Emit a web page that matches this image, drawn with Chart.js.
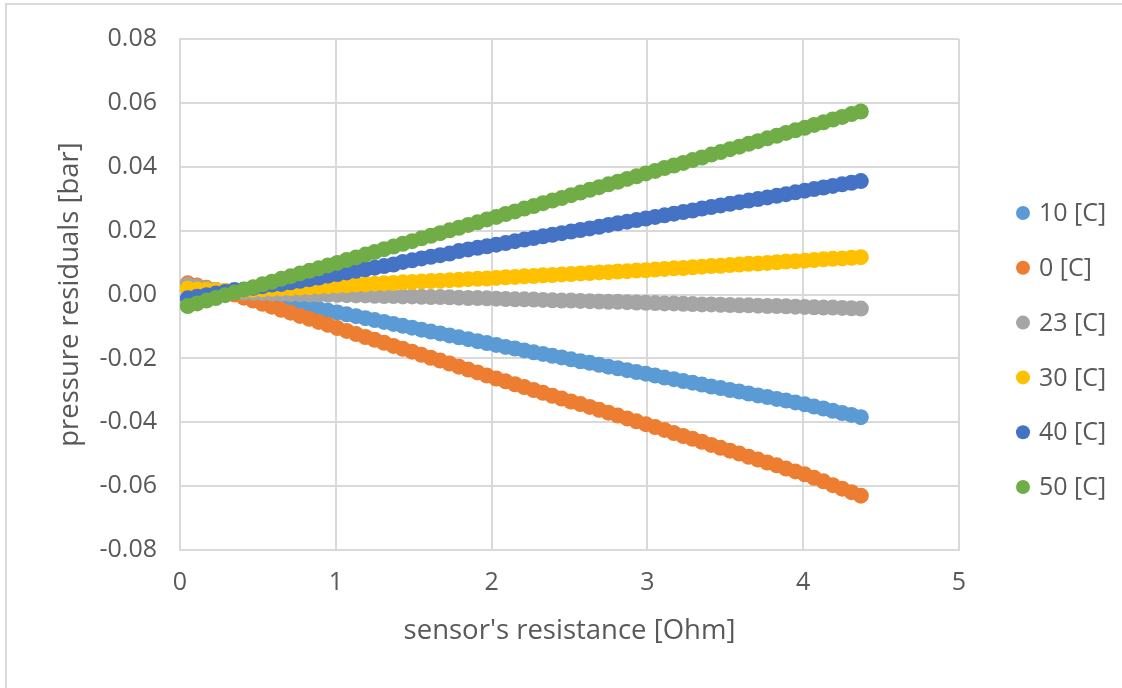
<!DOCTYPE html>
<html>
<head>
<meta charset="utf-8">
<script src="https://cdn.jsdelivr.net/npm/chart.js@4.4.1/dist/chart.umd.min.js"></script>
<style>
  html, body { margin: 0; padding: 0; background: #fff; }
  #frame {
    position: absolute; left: 5px; top: 3px; width: 1130px; height: 700px;
    border: 2px solid #d9d9d9; box-sizing: border-box;
  }
  #wrap { position: absolute; left: 0; top: 0; width: 1122px; height: 688px; }
</style>
</head>
<body>
<div id="frame"></div>
<div id="wrap"><canvas id="residuals" width="1122" height="688"></canvas></div>
<script>
// sensor resistance [Ohm], shared by every temperature series
const resistance = [
  0.05, 0.11, 0.17, 0.23, 0.29, 0.35, 0.41, 0.47, 0.53, 0.59,
  0.65, 0.71, 0.77, 0.83, 0.89, 0.95, 1.01, 1.07, 1.13, 1.19,
  1.25, 1.31, 1.37, 1.43, 1.49, 1.55, 1.61, 1.67, 1.73, 1.79,
  1.85, 1.91, 1.97, 2.03, 2.09, 2.15, 2.21, 2.27, 2.33, 2.39,
  2.45, 2.51, 2.57, 2.63, 2.69, 2.75, 2.81, 2.87, 2.93, 2.99,
  3.05, 3.11, 3.17, 3.23, 3.29, 3.35, 3.41, 3.47, 3.53, 3.59,
  3.65, 3.71, 3.77, 3.83, 3.89, 3.95, 4.01, 4.07, 4.13, 4.19,
  4.25, 4.31, 4.37
];

// pressure residuals [bar] per temperature
const res10C = [
  0.0028, 0.0022, 0.0017, 0.0012, 0.0008, 0.0004, -0.0001, -0.0007, -0.0012, -0.0018,
  -0.0023, -0.0029, -0.0034, -0.0040, -0.0045, -0.0051, -0.0056, -0.0062, -0.0068, -0.0074,
  -0.0080, -0.0086, -0.0092, -0.0098, -0.0104, -0.0110, -0.0116, -0.0122, -0.0128, -0.0134,
  -0.0140, -0.0146, -0.0152, -0.0158, -0.0164, -0.0169, -0.0175, -0.0181, -0.0186, -0.0192,
  -0.0197, -0.0203, -0.0209, -0.0214, -0.0220, -0.0226, -0.0231, -0.0237, -0.0243, -0.0248,
  -0.0254, -0.0260, -0.0265, -0.0271, -0.0276, -0.0282, -0.0288, -0.0293, -0.0299, -0.0304,
  -0.0310, -0.0316, -0.0321, -0.0327, -0.0332, -0.0338, -0.0344, -0.0351, -0.0357, -0.0364,
  -0.0371, -0.0377, -0.0384
];
const res0C = [
  0.0035, 0.0028, 0.0021, 0.0014, 0.0007, 0.0000, -0.0010, -0.0019, -0.0029, -0.0038,
  -0.0048, -0.0057, -0.0067, -0.0076, -0.0086, -0.0095, -0.0105, -0.0114, -0.0124, -0.0133,
  -0.0142, -0.0151, -0.0161, -0.0170, -0.0179, -0.0189, -0.0198, -0.0207, -0.0216, -0.0226,
  -0.0235, -0.0244, -0.0254, -0.0263, -0.0272, -0.0281, -0.0290, -0.0299, -0.0308, -0.0317,
  -0.0326, -0.0335, -0.0343, -0.0352, -0.0361, -0.0370, -0.0379, -0.0388, -0.0397, -0.0406,
  -0.0415, -0.0424, -0.0434, -0.0443, -0.0452, -0.0461, -0.0471, -0.0480, -0.0489, -0.0498,
  -0.0508, -0.0517, -0.0526, -0.0535, -0.0545, -0.0554, -0.0563, -0.0574, -0.0585, -0.0597,
  -0.0608, -0.0619, -0.0630
];
const res23C = [
  0.0030, 0.0024, 0.0019, 0.0014, 0.0011, 0.0008, 0.0006, 0.0005, 0.0004, 0.0003,
  0.0002, 0.0001, 0.0001, 0.0000, 0.0000, -0.0001, -0.0001, -0.0002, -0.0003, -0.0003,
  -0.0004, -0.0005, -0.0005, -0.0006, -0.0006, -0.0007, -0.0008, -0.0008, -0.0009, -0.0010,
  -0.0011, -0.0011, -0.0012, -0.0013, -0.0014, -0.0015, -0.0015, -0.0016, -0.0017, -0.0018,
  -0.0019, -0.0019, -0.0020, -0.0021, -0.0022, -0.0023, -0.0023, -0.0024, -0.0025, -0.0026,
  -0.0027, -0.0028, -0.0028, -0.0029, -0.0030, -0.0031, -0.0031, -0.0032, -0.0033, -0.0034,
  -0.0034, -0.0035, -0.0036, -0.0036, -0.0037, -0.0038, -0.0039, -0.0040, -0.0041, -0.0041,
  -0.0042, -0.0043, -0.0044
];
const res30C = [
  0.0018, 0.0016, 0.0014, 0.0013, 0.0012, 0.0012, 0.0013, 0.0015, 0.0016, 0.0018,
  0.0019, 0.0020, 0.0022, 0.0023, 0.0025, 0.0026, 0.0028, 0.0029, 0.0031, 0.0032,
  0.0034, 0.0035, 0.0036, 0.0038, 0.0039, 0.0041, 0.0042, 0.0043, 0.0045, 0.0046,
  0.0048, 0.0049, 0.0050, 0.0052, 0.0054, 0.0055, 0.0057, 0.0058, 0.0060, 0.0061,
  0.0063, 0.0064, 0.0066, 0.0067, 0.0069, 0.0070, 0.0072, 0.0073, 0.0075, 0.0076,
  0.0078, 0.0080, 0.0082, 0.0083, 0.0085, 0.0087, 0.0089, 0.0090, 0.0092, 0.0094,
  0.0096, 0.0097, 0.0099, 0.0101, 0.0103, 0.0104, 0.0106, 0.0108, 0.0110, 0.0112,
  0.0113, 0.0115, 0.0117
];
const res40C = [
  -0.0012, -0.0007, -0.0002, 0.0003, 0.0008, 0.0014, 0.0016, 0.0021, 0.0026, 0.0031,
  0.0033, 0.0038, 0.0043, 0.0048, 0.0053, 0.0059, 0.0064, 0.0069, 0.0074, 0.0079,
  0.0084, 0.0089, 0.0094, 0.0102, 0.0107, 0.0113, 0.0118, 0.0123, 0.0128, 0.0136,
  0.0141, 0.0146, 0.0151, 0.0156, 0.0161, 0.0167, 0.0172, 0.0177, 0.0182, 0.0187,
  0.0192, 0.0197, 0.0202, 0.0207, 0.0212, 0.0218, 0.0223, 0.0228, 0.0233, 0.0238,
  0.0243, 0.0248, 0.0253, 0.0258, 0.0263, 0.0269, 0.0274, 0.0279, 0.0284, 0.0289,
  0.0294, 0.0299, 0.0304, 0.0309, 0.0314, 0.0320, 0.0325, 0.0330, 0.0335, 0.0340,
  0.0345, 0.0350, 0.0355
];
const res50C = [
  -0.0036, -0.0028, -0.0019, -0.0011, -0.0002, 0.0006, 0.0015, 0.0023, 0.0032, 0.0040,
  0.0049, 0.0057, 0.0066, 0.0074, 0.0082, 0.0091, 0.0099, 0.0108, 0.0116, 0.0125,
  0.0133, 0.0142, 0.0150, 0.0159, 0.0167, 0.0176, 0.0184, 0.0192, 0.0201, 0.0209,
  0.0218, 0.0226, 0.0235, 0.0243, 0.0252, 0.0260, 0.0269, 0.0277, 0.0286, 0.0294,
  0.0302, 0.0311, 0.0319, 0.0328, 0.0336, 0.0345, 0.0353, 0.0362, 0.0370, 0.0379,
  0.0387, 0.0396, 0.0404, 0.0412, 0.0421, 0.0429, 0.0438, 0.0446, 0.0455, 0.0463,
  0.0472, 0.0480, 0.0489, 0.0497, 0.0506, 0.0514, 0.0522, 0.0531, 0.0539, 0.0548,
  0.0556, 0.0565, 0.0573
];

const seriesNames = ['10 [C]', '0 [C]', '23 [C]', '30 [C]', '40 [C]', '50 [C]'];
const seriesValues = [res10C, res0C, res23C, res30C, res40C, res50C];
const seriesColors = ['#5B9BD5', '#ED7D31', '#A5A5A5', '#FFC000', '#4472C4', '#70AD47'];

const textColor = '#595959';
const gridColor = '#d9d9d9';
const FONT = '"Open Sans"';

function toPoints(values) {
  return values.map((v, i) => ({ x: resistance[i], y: v }));
}

// later series sit on top of earlier ones
const datasets = seriesNames.map((name, i) => ({
  label: name,
  data: toPoints(seriesValues[i]),
  backgroundColor: seriesColors[i],
  borderColor: seriesColors[i],
  pointRadius: 8,
  pointHoverRadius: 8,
  pointBorderWidth: 0,
  order: seriesNames.length - i
}));

const PAD = { left: 50, right: 163, top: 39, bottom: 36 };

// legend column to the right of the plot, in dataset order
const sideLegend = {
  id: 'sideLegend',
  afterDraw(chart) {
    const ctx = chart.ctx;
    const x = chart.chartArea.right + 64;
    const rowGap = 54.8;
    const firstY = 213;
    ctx.save();
    ctx.font = '25px ' + FONT;
    ctx.textBaseline = 'middle';
    ctx.textAlign = 'left';
    chart.data.datasets.forEach((ds, i) => {
      const y = firstY + i * rowGap;
      ctx.fillStyle = ds.backgroundColor;
      ctx.beginPath();
      ctx.arc(x, y, 7, 0, Math.PI * 2);
      ctx.fill();
      ctx.fillStyle = textColor;
      ctx.fillText(ds.label, x + 16, y + 1);
    });
    ctx.restore();
  }
};

new Chart(document.getElementById('residuals'), {
  type: 'scatter',
  data: { datasets: datasets },
  plugins: [sideLegend],
  options: {
    responsive: false,
    animation: false,
    layout: { padding: PAD },
    plugins: {
      tooltip: { enabled: false },
      legend: { display: false }
    },
    scales: {
      x: {
        type: 'linear',
        min: 0,
        max: 5,
        ticks: {
          stepSize: 1,
          padding: 18,
          color: textColor,
          font: { family: FONT, size: 25 }
        },
        grid: { color: gridColor, lineWidth: 2, drawTicks: false },
        border: { color: gridColor, width: 2 },
        title: {
          display: true,
          text: "sensor's resistance [Ohm]",
          color: textColor,
          font: { family: FONT, size: 27.5 }
        },
        afterFit: (scale) => { scale.height = 688 - PAD.bottom - 550; }
      },
      y: {
        type: 'linear',
        min: -0.08,
        max: 0.08,
        ticks: {
          stepSize: 0.02,
          padding: 23,
          color: textColor,
          font: { family: FONT, size: 25 },
          callback: (v) => v.toFixed(2)
        },
        grid: { color: gridColor, lineWidth: 2, drawTicks: false },
        border: { color: gridColor, width: 2 },
        title: {
          display: true,
          text: 'pressure residuals [bar]',
          color: textColor,
          font: { family: FONT, size: 27.5 }
        },
        afterFit: (scale) => { scale.width = 180 - PAD.left; }
      }
    }
  }
});
</script>
</body>
</html>
